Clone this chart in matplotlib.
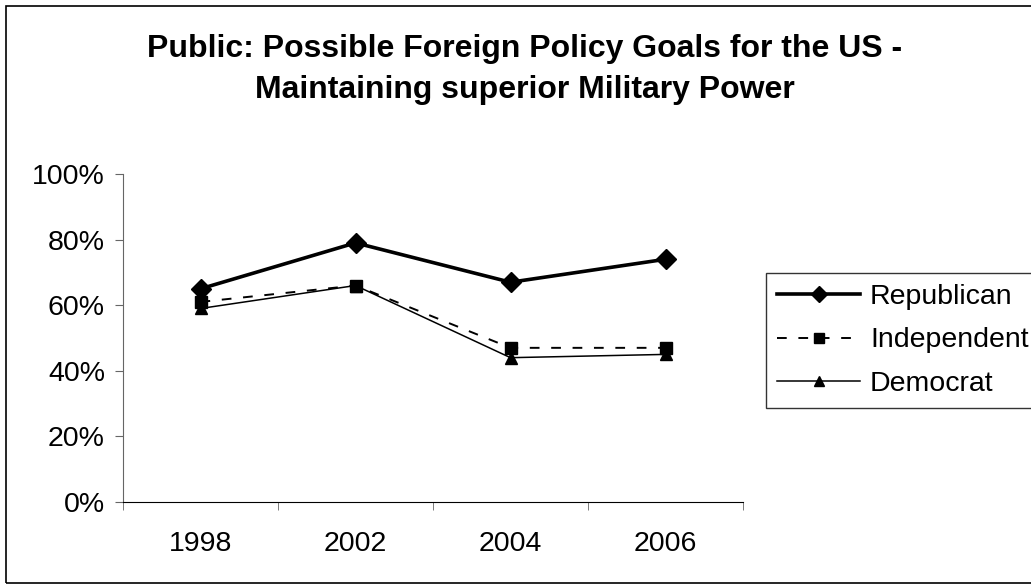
import matplotlib

matplotlib.use("Agg")
import matplotlib.pyplot as plt
from matplotlib.patches import Rectangle
from matplotlib.ticker import FixedLocator, PercentFormatter

plt.rcParams["font.family"] = ["Liberation Sans", "DejaVu Sans"]

years = ["1998", "2002", "2004", "2006"]
republican = [65, 79, 67, 74]
independent = [61, 66, 47, 47]
democrat = [59, 66, 44, 45]

W, H = 1031, 584
fig = plt.figure(figsize=(W / 100, H / 100), dpi=100)
# plot area in pixel terms: x 123..743, y 174..502 (from top)
ax = fig.add_axes([123 / W, 1 - 502 / H, (743 - 123) / W, (502 - 174) / H])

x = list(range(len(years)))
ax.plot(x, republican, color="black", lw=2.6, marker="D", ms=10, label="Republican")
ax.plot(x, independent, color="black", lw=1.4, ls=(0, (5, 6)), marker="s", ms=8.5,
        label="Independent")
ax.plot(x, democrat, color="black", lw=1.1, marker="^", ms=8.5, label="Democrat")

ax.set_xlim(-0.5, len(years) - 0.5)
ax.set_ylim(0, 100)
ax.yaxis.set_major_locator(FixedLocator([0, 20, 40, 60, 80, 100]))
ax.yaxis.set_major_formatter(PercentFormatter(decimals=0))
ax.set_xticks(x)
ax.set_xticklabels(years)
ax.xaxis.set_minor_locator(FixedLocator([i - 0.5 for i in range(len(years) + 1)]))
ax.tick_params(axis="x", which="major", length=0, pad=21, labelsize=20.5)
ax.tick_params(axis="x", which="minor", length=6, direction="out", color="#666666")
ax.tick_params(axis="y", length=6, direction="out", labelsize=20.5, pad=7, color="#666666")
for side in ("top", "right"):
    ax.spines[side].set_visible(False)
ax.spines["left"].set_color("#666666")
ax.spines["bottom"].set_color("black")

fig.text(525 / W, 1 - 49 / H, "Public: Possible Foreign Policy Goals for the US -",
         ha="center", va="center", fontsize=23, fontweight="bold")
fig.text(525 / W, 1 - 90 / H, "Maintaining superior Military Power",
         ha="center", va="center", fontsize=23, fontweight="bold")

leg = fig.legend(loc="upper left", bbox_to_anchor=(766 / W, 1 - 273 / H),
                 fontsize=20.5, frameon=True, fancybox=False, edgecolor="black",
                 handlelength=2.9, handletextpad=0.35, labelspacing=0.6,
                 borderpad=0.4, borderaxespad=0, markerscale=0.8)
leg.get_frame().set_linewidth(1)

# outer chart border, open on the right edge
fig.patches.append(Rectangle((6 / W, 1 / H), 1.2, 1 - 7 / H, transform=fig.transFigure,
                             fill=False, edgecolor="black", lw=1.2))

fig.savefig("out.png", dpi=100)
